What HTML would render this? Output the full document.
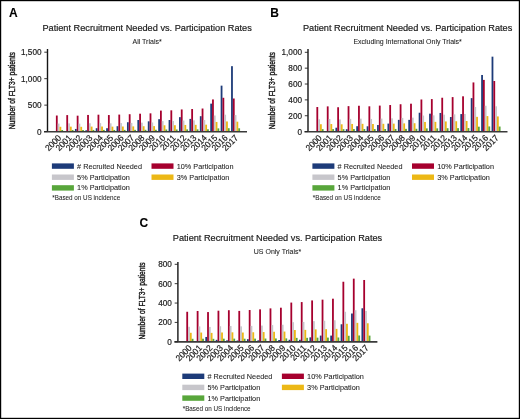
<!DOCTYPE html>
<html><head><meta charset="utf-8"><style>
html,body{margin:0;padding:0;background:#fff;}
body{width:520px;height:419px;overflow:hidden;}
svg{display:block;will-change:transform;}
text{stroke:#1a1a1a;stroke-width:0.18px;paint-order:stroke;}
</style></head><body>
<svg width="520" height="419" viewBox="0 0 520 419" font-family='"Liberation Sans", sans-serif'>
<rect x="0" y="0" width="520" height="419" fill="#fff"/>
<g transform="translate(0,0)">
<text x="9.1" y="16.9" font-weight="bold" font-size="12.0" style="stroke-width:0.1px">A</text>
<text transform="translate(147.1,31.1) scale(1,1.06)" text-anchor="middle" font-size="9.2" fill="#1a1a1a">Patient Recruitment Needed vs. Participation Rates</text>
<text transform="translate(147.1,44.1) scale(1,1.06)" text-anchor="middle" font-size="7.0" fill="#1a1a1a" style="stroke-width:0.06px">All Trials*</text>
<text transform="translate(14.6,90.7) rotate(-90) scale(0.795,1)" text-anchor="middle" font-size="8.4" fill="#1a1a1a" style="stroke-width:0.4px">Number of FLT3+ patients</text>
<rect x="55.9" y="115.52" width="1.8" height="16.08" fill="#a6002e"/>
<rect x="57.7" y="123.56" width="1.8" height="8.04" fill="#c7c6cb"/>
<rect x="59.5" y="126.78" width="1.8" height="4.82" fill="#ecb816"/>
<rect x="61.3" y="129.99" width="1.8" height="1.61" fill="#58a63b"/>
<rect x="66.31" y="115.1" width="1.8" height="16.5" fill="#a6002e"/>
<rect x="68.11" y="123.35" width="1.8" height="8.25" fill="#c7c6cb"/>
<rect x="69.91" y="126.65" width="1.8" height="4.95" fill="#ecb816"/>
<rect x="71.71" y="129.95" width="1.8" height="1.65" fill="#58a63b"/>
<rect x="74.92" y="128.95" width="1.8" height="2.65" fill="#1d3b79"/>
<rect x="76.72" y="115.67" width="1.8" height="15.93" fill="#a6002e"/>
<rect x="78.52" y="123.64" width="1.8" height="7.96" fill="#c7c6cb"/>
<rect x="80.32" y="126.82" width="1.8" height="4.78" fill="#ecb816"/>
<rect x="82.12" y="130.01" width="1.8" height="1.59" fill="#58a63b"/>
<rect x="85.33" y="130.28" width="1.8" height="1.32" fill="#1d3b79"/>
<rect x="87.13" y="114.95" width="1.8" height="16.65" fill="#a6002e"/>
<rect x="88.93" y="123.27" width="1.8" height="8.33" fill="#c7c6cb"/>
<rect x="90.73" y="126.6" width="1.8" height="5" fill="#ecb816"/>
<rect x="92.53" y="129.93" width="1.8" height="1.67" fill="#58a63b"/>
<rect x="95.74" y="128.21" width="1.8" height="3.39" fill="#1d3b79"/>
<rect x="97.54" y="114.69" width="1.8" height="16.91" fill="#a6002e"/>
<rect x="99.34" y="123.14" width="1.8" height="8.46" fill="#c7c6cb"/>
<rect x="101.14" y="126.53" width="1.8" height="5.07" fill="#ecb816"/>
<rect x="102.94" y="129.91" width="1.8" height="1.69" fill="#58a63b"/>
<rect x="106.15" y="128.21" width="1.8" height="3.39" fill="#1d3b79"/>
<rect x="107.95" y="115.05" width="1.8" height="16.55" fill="#a6002e"/>
<rect x="109.75" y="123.33" width="1.8" height="8.27" fill="#c7c6cb"/>
<rect x="111.55" y="126.64" width="1.8" height="4.96" fill="#ecb816"/>
<rect x="113.35" y="129.95" width="1.8" height="1.65" fill="#58a63b"/>
<rect x="116.56" y="126.2" width="1.8" height="5.4" fill="#1d3b79"/>
<rect x="118.36" y="114.59" width="1.8" height="17.01" fill="#a6002e"/>
<rect x="120.16" y="123.09" width="1.8" height="8.51" fill="#c7c6cb"/>
<rect x="121.96" y="126.5" width="1.8" height="5.1" fill="#ecb816"/>
<rect x="123.76" y="129.9" width="1.8" height="1.7" fill="#58a63b"/>
<rect x="126.97" y="122.23" width="1.8" height="9.37" fill="#1d3b79"/>
<rect x="128.77" y="114.22" width="1.8" height="17.38" fill="#a6002e"/>
<rect x="130.57" y="122.91" width="1.8" height="8.69" fill="#c7c6cb"/>
<rect x="132.37" y="126.39" width="1.8" height="5.21" fill="#ecb816"/>
<rect x="134.17" y="129.86" width="1.8" height="1.74" fill="#58a63b"/>
<rect x="137.38" y="120.01" width="1.8" height="11.59" fill="#1d3b79"/>
<rect x="139.18" y="113.7" width="1.8" height="17.9" fill="#a6002e"/>
<rect x="140.98" y="122.65" width="1.8" height="8.95" fill="#c7c6cb"/>
<rect x="142.78" y="126.23" width="1.8" height="5.37" fill="#ecb816"/>
<rect x="144.58" y="129.81" width="1.8" height="1.79" fill="#58a63b"/>
<rect x="147.79" y="121.33" width="1.8" height="10.27" fill="#1d3b79"/>
<rect x="149.59" y="113.34" width="1.8" height="18.26" fill="#a6002e"/>
<rect x="151.39" y="122.47" width="1.8" height="9.13" fill="#c7c6cb"/>
<rect x="153.19" y="126.12" width="1.8" height="5.48" fill="#ecb816"/>
<rect x="154.99" y="129.77" width="1.8" height="1.83" fill="#58a63b"/>
<rect x="158.2" y="119.21" width="1.8" height="12.39" fill="#1d3b79"/>
<rect x="160" y="110.59" width="1.8" height="21.01" fill="#a6002e"/>
<rect x="161.8" y="121.1" width="1.8" height="10.5" fill="#c7c6cb"/>
<rect x="163.6" y="125.3" width="1.8" height="6.3" fill="#ecb816"/>
<rect x="165.4" y="129.5" width="1.8" height="2.1" fill="#58a63b"/>
<rect x="168.61" y="120.01" width="1.8" height="11.59" fill="#1d3b79"/>
<rect x="170.41" y="110.33" width="1.8" height="21.27" fill="#a6002e"/>
<rect x="172.21" y="120.97" width="1.8" height="10.63" fill="#c7c6cb"/>
<rect x="174.01" y="125.22" width="1.8" height="6.38" fill="#ecb816"/>
<rect x="175.81" y="129.47" width="1.8" height="2.13" fill="#58a63b"/>
<rect x="179.02" y="117.15" width="1.8" height="14.45" fill="#1d3b79"/>
<rect x="180.82" y="109.45" width="1.8" height="22.15" fill="#a6002e"/>
<rect x="182.62" y="120.52" width="1.8" height="11.08" fill="#c7c6cb"/>
<rect x="184.42" y="124.95" width="1.8" height="6.65" fill="#ecb816"/>
<rect x="186.22" y="129.38" width="1.8" height="2.22" fill="#58a63b"/>
<rect x="189.43" y="118.9" width="1.8" height="12.7" fill="#1d3b79"/>
<rect x="191.23" y="109.03" width="1.8" height="22.57" fill="#a6002e"/>
<rect x="193.03" y="120.32" width="1.8" height="11.28" fill="#c7c6cb"/>
<rect x="194.83" y="124.83" width="1.8" height="6.77" fill="#ecb816"/>
<rect x="196.63" y="129.34" width="1.8" height="2.26" fill="#58a63b"/>
<rect x="199.84" y="116.2" width="1.8" height="15.4" fill="#1d3b79"/>
<rect x="201.64" y="108.52" width="1.8" height="23.08" fill="#a6002e"/>
<rect x="203.44" y="120.06" width="1.8" height="11.54" fill="#c7c6cb"/>
<rect x="205.24" y="124.67" width="1.8" height="6.93" fill="#ecb816"/>
<rect x="207.04" y="129.29" width="1.8" height="2.31" fill="#58a63b"/>
<rect x="210.25" y="103.65" width="1.8" height="27.95" fill="#1d3b79"/>
<rect x="212.05" y="99.44" width="1.8" height="32.16" fill="#a6002e"/>
<rect x="213.85" y="115.52" width="1.8" height="16.08" fill="#c7c6cb"/>
<rect x="215.65" y="121.95" width="1.8" height="9.65" fill="#ecb816"/>
<rect x="217.45" y="128.38" width="1.8" height="3.22" fill="#58a63b"/>
<rect x="220.66" y="85.65" width="1.8" height="45.95" fill="#1d3b79"/>
<rect x="222.46" y="97.78" width="1.8" height="33.82" fill="#a6002e"/>
<rect x="224.26" y="114.69" width="1.8" height="16.91" fill="#c7c6cb"/>
<rect x="226.06" y="121.45" width="1.8" height="10.15" fill="#ecb816"/>
<rect x="227.86" y="128.22" width="1.8" height="3.38" fill="#58a63b"/>
<rect x="231.07" y="66.17" width="1.8" height="65.43" fill="#1d3b79"/>
<rect x="232.87" y="98.5" width="1.8" height="33.1" fill="#a6002e"/>
<rect x="234.67" y="115.05" width="1.8" height="16.55" fill="#c7c6cb"/>
<rect x="236.47" y="121.67" width="1.8" height="9.93" fill="#ecb816"/>
<rect x="238.27" y="128.29" width="1.8" height="3.31" fill="#58a63b"/>
<line x1="47.5" y1="49" x2="47.5" y2="131.6" stroke="#151515" stroke-width="1.4"/>
<line x1="44" y1="131.75" x2="247" y2="131.75" stroke="#3a3a3a" stroke-width="1.7"/>
<line x1="44.3" y1="131.6" x2="47.5" y2="131.6" stroke="#222" stroke-width="0.9"/>
<text transform="translate(41.5,134.5) scale(1,1.06)" text-anchor="end" font-size="8.2" fill="#1a1a1a">0</text>
<line x1="44.3" y1="105.13" x2="47.5" y2="105.13" stroke="#222" stroke-width="0.9"/>
<text transform="translate(41.5,108.03) scale(1,1.06)" text-anchor="end" font-size="8.2" fill="#1a1a1a">500</text>
<line x1="44.3" y1="78.67" x2="47.5" y2="78.67" stroke="#222" stroke-width="0.9"/>
<text transform="translate(41.5,81.57) scale(1,1.06)" text-anchor="end" font-size="8.2" fill="#1a1a1a">1,000</text>
<line x1="44.3" y1="52.2" x2="47.5" y2="52.2" stroke="#222" stroke-width="0.9"/>
<text transform="translate(41.5,55.1) scale(1,1.06)" text-anchor="end" font-size="8.2" fill="#1a1a1a">1,500</text>
<text transform="translate(61.8,138.4) rotate(-45) scale(1,1.06)" text-anchor="end" font-size="8.3" fill="#1a1a1a">2000</text>
<text transform="translate(72.21,138.4) rotate(-45) scale(1,1.06)" text-anchor="end" font-size="8.3" fill="#1a1a1a">2001</text>
<text transform="translate(82.62,138.4) rotate(-45) scale(1,1.06)" text-anchor="end" font-size="8.3" fill="#1a1a1a">2002</text>
<text transform="translate(93.03,138.4) rotate(-45) scale(1,1.06)" text-anchor="end" font-size="8.3" fill="#1a1a1a">2003</text>
<text transform="translate(103.44,138.4) rotate(-45) scale(1,1.06)" text-anchor="end" font-size="8.3" fill="#1a1a1a">2004</text>
<text transform="translate(113.85,138.4) rotate(-45) scale(1,1.06)" text-anchor="end" font-size="8.3" fill="#1a1a1a">2005</text>
<text transform="translate(124.26,138.4) rotate(-45) scale(1,1.06)" text-anchor="end" font-size="8.3" fill="#1a1a1a">2006</text>
<text transform="translate(134.67,138.4) rotate(-45) scale(1,1.06)" text-anchor="end" font-size="8.3" fill="#1a1a1a">2007</text>
<text transform="translate(145.08,138.4) rotate(-45) scale(1,1.06)" text-anchor="end" font-size="8.3" fill="#1a1a1a">2008</text>
<text transform="translate(155.49,138.4) rotate(-45) scale(1,1.06)" text-anchor="end" font-size="8.3" fill="#1a1a1a">2009</text>
<text transform="translate(165.9,138.4) rotate(-45) scale(1,1.06)" text-anchor="end" font-size="8.3" fill="#1a1a1a">2010</text>
<text transform="translate(176.31,138.4) rotate(-45) scale(1,1.06)" text-anchor="end" font-size="8.3" fill="#1a1a1a">2011</text>
<text transform="translate(186.72,138.4) rotate(-45) scale(1,1.06)" text-anchor="end" font-size="8.3" fill="#1a1a1a">2012</text>
<text transform="translate(197.13,138.4) rotate(-45) scale(1,1.06)" text-anchor="end" font-size="8.3" fill="#1a1a1a">2013</text>
<text transform="translate(207.54,138.4) rotate(-45) scale(1,1.06)" text-anchor="end" font-size="8.3" fill="#1a1a1a">2014</text>
<text transform="translate(217.95,138.4) rotate(-45) scale(1,1.06)" text-anchor="end" font-size="8.3" fill="#1a1a1a">2015</text>
<text transform="translate(228.36,138.4) rotate(-45) scale(1,1.06)" text-anchor="end" font-size="8.3" fill="#1a1a1a">2016</text>
<text transform="translate(238.77,138.4) rotate(-45) scale(1,1.06)" text-anchor="end" font-size="8.3" fill="#1a1a1a">2017</text>
<rect x="51.9" y="163.4" width="22" height="5.4" fill="#1d3b79"/>
<text transform="translate(77.1,168.6) scale(1,1.06)" font-size="7.3" fill="#1a1a1a" style="stroke-width:0.06px"># Recruited Needed</text>
<rect x="151.5" y="163.4" width="22" height="5.4" fill="#a6002e"/>
<text transform="translate(176.7,168.6) scale(1,1.06)" font-size="7.3" fill="#1a1a1a" style="stroke-width:0.06px">10% Participation</text>
<rect x="51.9" y="174.5" width="22" height="5.4" fill="#c7c6cb"/>
<text transform="translate(77.1,179.7) scale(1,1.06)" font-size="7.3" fill="#1a1a1a" style="stroke-width:0.06px">5% Participation</text>
<rect x="151.5" y="174.5" width="22" height="5.4" fill="#ecb816"/>
<text transform="translate(176.7,179.7) scale(1,1.06)" font-size="7.3" fill="#1a1a1a" style="stroke-width:0.06px">3% Participation</text>
<rect x="51.9" y="185.2" width="22" height="5.4" fill="#58a63b"/>
<text transform="translate(77.1,190.4) scale(1,1.06)" font-size="7.3" fill="#1a1a1a" style="stroke-width:0.06px">1% Participation</text>
<text transform="translate(52.3,200.4) scale(1,1.06)" font-size="6.3" fill="#1a1a1a" style="stroke-width:0.04px">*Based on US incidence</text>
</g>
<g transform="translate(260.5,0)">
<text x="9.7" y="16.9" font-weight="bold" font-size="12.0" style="stroke-width:0.1px">B</text>
<text transform="translate(147.1,31.1) scale(1,1.06)" text-anchor="middle" font-size="9.2" fill="#1a1a1a">Patient Recruitment Needed vs. Participation Rates</text>
<text transform="translate(147.1,44.1) scale(1,1.06)" text-anchor="middle" font-size="7.0" fill="#1a1a1a" style="stroke-width:0.06px">Excluding International Only Trials*</text>
<text transform="translate(14.6,90.7) rotate(-90) scale(0.795,1)" text-anchor="middle" font-size="8.4" fill="#1a1a1a" style="stroke-width:0.4px">Number of FLT3+ patients</text>
<rect x="55.9" y="107.02" width="1.8" height="24.58" fill="#a6002e"/>
<rect x="57.7" y="119.31" width="1.8" height="12.29" fill="#c7c6cb"/>
<rect x="59.5" y="124.23" width="1.8" height="7.37" fill="#ecb816"/>
<rect x="61.3" y="129.14" width="1.8" height="2.46" fill="#58a63b"/>
<rect x="66.31" y="106.38" width="1.8" height="25.22" fill="#a6002e"/>
<rect x="68.11" y="118.99" width="1.8" height="12.61" fill="#c7c6cb"/>
<rect x="69.91" y="124.03" width="1.8" height="7.57" fill="#ecb816"/>
<rect x="71.71" y="129.08" width="1.8" height="2.52" fill="#58a63b"/>
<rect x="74.92" y="127.71" width="1.8" height="3.89" fill="#1d3b79"/>
<rect x="76.72" y="107.25" width="1.8" height="24.35" fill="#a6002e"/>
<rect x="78.52" y="119.43" width="1.8" height="12.17" fill="#c7c6cb"/>
<rect x="80.32" y="124.3" width="1.8" height="7.3" fill="#ecb816"/>
<rect x="82.12" y="129.17" width="1.8" height="2.43" fill="#58a63b"/>
<rect x="85.33" y="129.22" width="1.8" height="2.38" fill="#1d3b79"/>
<rect x="87.13" y="106.14" width="1.8" height="25.46" fill="#a6002e"/>
<rect x="88.93" y="118.87" width="1.8" height="12.73" fill="#c7c6cb"/>
<rect x="90.73" y="123.96" width="1.8" height="7.64" fill="#ecb816"/>
<rect x="92.53" y="129.05" width="1.8" height="2.55" fill="#58a63b"/>
<rect x="95.74" y="126.21" width="1.8" height="5.39" fill="#1d3b79"/>
<rect x="97.54" y="105.75" width="1.8" height="25.85" fill="#a6002e"/>
<rect x="99.34" y="118.67" width="1.8" height="12.93" fill="#c7c6cb"/>
<rect x="101.14" y="123.84" width="1.8" height="7.76" fill="#ecb816"/>
<rect x="102.94" y="129.01" width="1.8" height="2.59" fill="#58a63b"/>
<rect x="106.15" y="126.29" width="1.8" height="5.31" fill="#1d3b79"/>
<rect x="107.95" y="106.3" width="1.8" height="25.3" fill="#a6002e"/>
<rect x="109.75" y="118.95" width="1.8" height="12.65" fill="#c7c6cb"/>
<rect x="111.55" y="124.01" width="1.8" height="7.59" fill="#ecb816"/>
<rect x="113.35" y="129.07" width="1.8" height="2.53" fill="#58a63b"/>
<rect x="116.56" y="125.02" width="1.8" height="6.58" fill="#1d3b79"/>
<rect x="118.36" y="105.59" width="1.8" height="26.01" fill="#a6002e"/>
<rect x="120.16" y="118.59" width="1.8" height="13.01" fill="#c7c6cb"/>
<rect x="121.96" y="123.8" width="1.8" height="7.8" fill="#ecb816"/>
<rect x="123.76" y="129" width="1.8" height="2.6" fill="#58a63b"/>
<rect x="126.97" y="123.59" width="1.8" height="8.01" fill="#1d3b79"/>
<rect x="128.77" y="105.03" width="1.8" height="26.57" fill="#a6002e"/>
<rect x="130.57" y="118.32" width="1.8" height="13.28" fill="#c7c6cb"/>
<rect x="132.37" y="123.63" width="1.8" height="7.97" fill="#ecb816"/>
<rect x="134.17" y="128.94" width="1.8" height="2.66" fill="#58a63b"/>
<rect x="137.38" y="119.86" width="1.8" height="11.74" fill="#1d3b79"/>
<rect x="139.18" y="104.24" width="1.8" height="27.36" fill="#a6002e"/>
<rect x="140.98" y="117.92" width="1.8" height="13.68" fill="#c7c6cb"/>
<rect x="142.78" y="123.39" width="1.8" height="8.21" fill="#ecb816"/>
<rect x="144.58" y="128.86" width="1.8" height="2.74" fill="#58a63b"/>
<rect x="147.79" y="119.86" width="1.8" height="11.74" fill="#1d3b79"/>
<rect x="149.59" y="103.69" width="1.8" height="27.91" fill="#a6002e"/>
<rect x="151.39" y="117.64" width="1.8" height="13.96" fill="#c7c6cb"/>
<rect x="153.19" y="123.23" width="1.8" height="8.37" fill="#ecb816"/>
<rect x="154.99" y="128.81" width="1.8" height="2.79" fill="#58a63b"/>
<rect x="158.2" y="112.73" width="1.8" height="18.87" fill="#1d3b79"/>
<rect x="160" y="99.48" width="1.8" height="32.12" fill="#a6002e"/>
<rect x="161.8" y="115.54" width="1.8" height="16.06" fill="#c7c6cb"/>
<rect x="163.6" y="121.97" width="1.8" height="9.63" fill="#ecb816"/>
<rect x="165.4" y="128.39" width="1.8" height="3.21" fill="#58a63b"/>
<rect x="168.61" y="113.68" width="1.8" height="17.92" fill="#1d3b79"/>
<rect x="170.41" y="99.09" width="1.8" height="32.51" fill="#a6002e"/>
<rect x="172.21" y="115.34" width="1.8" height="16.26" fill="#c7c6cb"/>
<rect x="174.01" y="121.85" width="1.8" height="9.75" fill="#ecb816"/>
<rect x="175.81" y="128.35" width="1.8" height="3.25" fill="#58a63b"/>
<rect x="179.02" y="112.96" width="1.8" height="18.64" fill="#1d3b79"/>
<rect x="180.82" y="97.74" width="1.8" height="33.86" fill="#a6002e"/>
<rect x="182.62" y="114.67" width="1.8" height="16.93" fill="#c7c6cb"/>
<rect x="184.42" y="121.44" width="1.8" height="10.16" fill="#ecb816"/>
<rect x="186.22" y="128.21" width="1.8" height="3.39" fill="#58a63b"/>
<rect x="189.43" y="117.01" width="1.8" height="14.59" fill="#1d3b79"/>
<rect x="191.23" y="97.1" width="1.8" height="34.5" fill="#a6002e"/>
<rect x="193.03" y="114.35" width="1.8" height="17.25" fill="#c7c6cb"/>
<rect x="194.83" y="121.25" width="1.8" height="10.35" fill="#ecb816"/>
<rect x="196.63" y="128.15" width="1.8" height="3.45" fill="#58a63b"/>
<rect x="199.84" y="114.07" width="1.8" height="17.53" fill="#1d3b79"/>
<rect x="201.64" y="96.31" width="1.8" height="35.29" fill="#a6002e"/>
<rect x="203.44" y="113.96" width="1.8" height="17.64" fill="#c7c6cb"/>
<rect x="205.24" y="121.01" width="1.8" height="10.59" fill="#ecb816"/>
<rect x="207.04" y="128.07" width="1.8" height="3.53" fill="#58a63b"/>
<rect x="210.25" y="98.14" width="1.8" height="33.46" fill="#1d3b79"/>
<rect x="212.05" y="82.43" width="1.8" height="49.17" fill="#a6002e"/>
<rect x="213.85" y="107.02" width="1.8" height="24.58" fill="#c7c6cb"/>
<rect x="215.65" y="116.85" width="1.8" height="14.75" fill="#ecb816"/>
<rect x="217.45" y="126.68" width="1.8" height="4.92" fill="#58a63b"/>
<rect x="220.66" y="74.98" width="1.8" height="56.62" fill="#1d3b79"/>
<rect x="222.46" y="79.9" width="1.8" height="51.7" fill="#a6002e"/>
<rect x="224.26" y="105.75" width="1.8" height="25.85" fill="#c7c6cb"/>
<rect x="226.06" y="116.09" width="1.8" height="15.51" fill="#ecb816"/>
<rect x="227.86" y="126.43" width="1.8" height="5.17" fill="#58a63b"/>
<rect x="231.07" y="56.66" width="1.8" height="74.94" fill="#1d3b79"/>
<rect x="232.87" y="81.01" width="1.8" height="50.59" fill="#a6002e"/>
<rect x="234.67" y="106.3" width="1.8" height="25.3" fill="#c7c6cb"/>
<rect x="236.47" y="116.42" width="1.8" height="15.18" fill="#ecb816"/>
<rect x="238.27" y="126.54" width="1.8" height="5.06" fill="#58a63b"/>
<line x1="47.5" y1="49.1" x2="47.5" y2="131.6" stroke="#151515" stroke-width="1.4"/>
<line x1="44" y1="131.75" x2="247" y2="131.75" stroke="#3a3a3a" stroke-width="1.7"/>
<line x1="44.3" y1="131.6" x2="47.5" y2="131.6" stroke="#222" stroke-width="0.9"/>
<text transform="translate(41.5,134.5) scale(1,1.06)" text-anchor="end" font-size="8.2" fill="#1a1a1a">0</text>
<line x1="44.3" y1="115.74" x2="47.5" y2="115.74" stroke="#222" stroke-width="0.9"/>
<text transform="translate(41.5,118.64) scale(1,1.06)" text-anchor="end" font-size="8.2" fill="#1a1a1a">200</text>
<line x1="44.3" y1="99.88" x2="47.5" y2="99.88" stroke="#222" stroke-width="0.9"/>
<text transform="translate(41.5,102.78) scale(1,1.06)" text-anchor="end" font-size="8.2" fill="#1a1a1a">400</text>
<line x1="44.3" y1="84.02" x2="47.5" y2="84.02" stroke="#222" stroke-width="0.9"/>
<text transform="translate(41.5,86.92) scale(1,1.06)" text-anchor="end" font-size="8.2" fill="#1a1a1a">600</text>
<line x1="44.3" y1="68.16" x2="47.5" y2="68.16" stroke="#222" stroke-width="0.9"/>
<text transform="translate(41.5,71.06) scale(1,1.06)" text-anchor="end" font-size="8.2" fill="#1a1a1a">800</text>
<line x1="44.3" y1="52.3" x2="47.5" y2="52.3" stroke="#222" stroke-width="0.9"/>
<text transform="translate(41.5,55.2) scale(1,1.06)" text-anchor="end" font-size="8.2" fill="#1a1a1a">1,000</text>
<text transform="translate(61.8,138.4) rotate(-45) scale(1,1.06)" text-anchor="end" font-size="8.3" fill="#1a1a1a">2000</text>
<text transform="translate(72.21,138.4) rotate(-45) scale(1,1.06)" text-anchor="end" font-size="8.3" fill="#1a1a1a">2001</text>
<text transform="translate(82.62,138.4) rotate(-45) scale(1,1.06)" text-anchor="end" font-size="8.3" fill="#1a1a1a">2002</text>
<text transform="translate(93.03,138.4) rotate(-45) scale(1,1.06)" text-anchor="end" font-size="8.3" fill="#1a1a1a">2003</text>
<text transform="translate(103.44,138.4) rotate(-45) scale(1,1.06)" text-anchor="end" font-size="8.3" fill="#1a1a1a">2004</text>
<text transform="translate(113.85,138.4) rotate(-45) scale(1,1.06)" text-anchor="end" font-size="8.3" fill="#1a1a1a">2005</text>
<text transform="translate(124.26,138.4) rotate(-45) scale(1,1.06)" text-anchor="end" font-size="8.3" fill="#1a1a1a">2006</text>
<text transform="translate(134.67,138.4) rotate(-45) scale(1,1.06)" text-anchor="end" font-size="8.3" fill="#1a1a1a">2007</text>
<text transform="translate(145.08,138.4) rotate(-45) scale(1,1.06)" text-anchor="end" font-size="8.3" fill="#1a1a1a">2008</text>
<text transform="translate(155.49,138.4) rotate(-45) scale(1,1.06)" text-anchor="end" font-size="8.3" fill="#1a1a1a">2009</text>
<text transform="translate(165.9,138.4) rotate(-45) scale(1,1.06)" text-anchor="end" font-size="8.3" fill="#1a1a1a">2010</text>
<text transform="translate(176.31,138.4) rotate(-45) scale(1,1.06)" text-anchor="end" font-size="8.3" fill="#1a1a1a">2011</text>
<text transform="translate(186.72,138.4) rotate(-45) scale(1,1.06)" text-anchor="end" font-size="8.3" fill="#1a1a1a">2012</text>
<text transform="translate(197.13,138.4) rotate(-45) scale(1,1.06)" text-anchor="end" font-size="8.3" fill="#1a1a1a">2013</text>
<text transform="translate(207.54,138.4) rotate(-45) scale(1,1.06)" text-anchor="end" font-size="8.3" fill="#1a1a1a">2014</text>
<text transform="translate(217.95,138.4) rotate(-45) scale(1,1.06)" text-anchor="end" font-size="8.3" fill="#1a1a1a">2015</text>
<text transform="translate(228.36,138.4) rotate(-45) scale(1,1.06)" text-anchor="end" font-size="8.3" fill="#1a1a1a">2016</text>
<text transform="translate(238.77,138.4) rotate(-45) scale(1,1.06)" text-anchor="end" font-size="8.3" fill="#1a1a1a">2017</text>
<rect x="51.9" y="163.4" width="22" height="5.4" fill="#1d3b79"/>
<text transform="translate(77.1,168.6) scale(1,1.06)" font-size="7.3" fill="#1a1a1a" style="stroke-width:0.06px"># Recruited Needed</text>
<rect x="151.5" y="163.4" width="22" height="5.4" fill="#a6002e"/>
<text transform="translate(176.7,168.6) scale(1,1.06)" font-size="7.3" fill="#1a1a1a" style="stroke-width:0.06px">10% Participation</text>
<rect x="51.9" y="174.5" width="22" height="5.4" fill="#c7c6cb"/>
<text transform="translate(77.1,179.7) scale(1,1.06)" font-size="7.3" fill="#1a1a1a" style="stroke-width:0.06px">5% Participation</text>
<rect x="151.5" y="174.5" width="22" height="5.4" fill="#ecb816"/>
<text transform="translate(176.7,179.7) scale(1,1.06)" font-size="7.3" fill="#1a1a1a" style="stroke-width:0.06px">3% Participation</text>
<rect x="51.9" y="185.2" width="22" height="5.4" fill="#58a63b"/>
<text transform="translate(77.1,190.4) scale(1,1.06)" font-size="7.3" fill="#1a1a1a" style="stroke-width:0.06px">1% Participation</text>
<text transform="translate(52.3,200.4) scale(1,1.06)" font-size="6.3" fill="#1a1a1a" style="stroke-width:0.04px">*Based on US incidence</text>
</g>
<g transform="translate(130.4,210.2)">
<text x="9.0" y="16.9" font-weight="bold" font-size="12.0" style="stroke-width:0.1px">C</text>
<text transform="translate(147.1,31.1) scale(1,1.06)" text-anchor="middle" font-size="9.2" fill="#1a1a1a">Patient Recruitment Needed vs. Participation Rates</text>
<text transform="translate(147.1,44.1) scale(1,1.06)" text-anchor="middle" font-size="7.0" fill="#1a1a1a" style="stroke-width:0.06px">US Only Trials*</text>
<text transform="translate(14.6,90.7) rotate(-90) scale(0.795,1)" text-anchor="middle" font-size="8.4" fill="#1a1a1a" style="stroke-width:0.4px">Number of FLT3+ patients</text>
<rect x="55.9" y="101.57" width="1.8" height="30.03" fill="#a6002e"/>
<rect x="57.7" y="116.58" width="1.8" height="15.02" fill="#c7c6cb"/>
<rect x="59.5" y="122.59" width="1.8" height="9.01" fill="#ecb816"/>
<rect x="61.3" y="128.6" width="1.8" height="3" fill="#58a63b"/>
<rect x="66.31" y="100.79" width="1.8" height="30.81" fill="#a6002e"/>
<rect x="68.11" y="116.2" width="1.8" height="15.4" fill="#c7c6cb"/>
<rect x="69.91" y="122.36" width="1.8" height="9.24" fill="#ecb816"/>
<rect x="71.71" y="128.52" width="1.8" height="3.08" fill="#58a63b"/>
<rect x="74.92" y="126.76" width="1.8" height="4.84" fill="#1d3b79"/>
<rect x="76.72" y="101.86" width="1.8" height="29.74" fill="#a6002e"/>
<rect x="78.52" y="116.73" width="1.8" height="14.87" fill="#c7c6cb"/>
<rect x="80.32" y="122.68" width="1.8" height="8.92" fill="#ecb816"/>
<rect x="82.12" y="128.63" width="1.8" height="2.97" fill="#58a63b"/>
<rect x="85.33" y="129.66" width="1.8" height="1.94" fill="#1d3b79"/>
<rect x="87.13" y="100.5" width="1.8" height="31.1" fill="#a6002e"/>
<rect x="88.93" y="116.05" width="1.8" height="15.55" fill="#c7c6cb"/>
<rect x="90.73" y="122.27" width="1.8" height="9.33" fill="#ecb816"/>
<rect x="92.53" y="128.49" width="1.8" height="3.11" fill="#58a63b"/>
<rect x="95.74" y="130.15" width="1.8" height="1.45" fill="#1d3b79"/>
<rect x="97.54" y="100.02" width="1.8" height="31.58" fill="#a6002e"/>
<rect x="99.34" y="115.81" width="1.8" height="15.79" fill="#c7c6cb"/>
<rect x="101.14" y="122.13" width="1.8" height="9.47" fill="#ecb816"/>
<rect x="102.94" y="128.44" width="1.8" height="3.16" fill="#58a63b"/>
<rect x="106.15" y="130.34" width="1.8" height="1.26" fill="#1d3b79"/>
<rect x="107.95" y="100.7" width="1.8" height="30.9" fill="#a6002e"/>
<rect x="109.75" y="116.15" width="1.8" height="15.45" fill="#c7c6cb"/>
<rect x="111.55" y="122.33" width="1.8" height="9.27" fill="#ecb816"/>
<rect x="113.35" y="128.51" width="1.8" height="3.09" fill="#58a63b"/>
<rect x="116.56" y="128.98" width="1.8" height="2.62" fill="#1d3b79"/>
<rect x="118.36" y="99.82" width="1.8" height="31.78" fill="#a6002e"/>
<rect x="120.16" y="115.71" width="1.8" height="15.89" fill="#c7c6cb"/>
<rect x="121.96" y="122.07" width="1.8" height="9.53" fill="#ecb816"/>
<rect x="123.76" y="128.42" width="1.8" height="3.18" fill="#58a63b"/>
<rect x="126.97" y="130.15" width="1.8" height="1.45" fill="#1d3b79"/>
<rect x="128.77" y="99.15" width="1.8" height="32.45" fill="#a6002e"/>
<rect x="130.57" y="115.37" width="1.8" height="16.23" fill="#c7c6cb"/>
<rect x="132.37" y="121.86" width="1.8" height="9.74" fill="#ecb816"/>
<rect x="134.17" y="128.35" width="1.8" height="3.25" fill="#58a63b"/>
<rect x="137.38" y="131.31" width="1.8" height="0.29" fill="#1d3b79"/>
<rect x="139.18" y="98.18" width="1.8" height="33.42" fill="#a6002e"/>
<rect x="140.98" y="114.89" width="1.8" height="16.71" fill="#c7c6cb"/>
<rect x="142.78" y="121.57" width="1.8" height="10.03" fill="#ecb816"/>
<rect x="144.58" y="128.26" width="1.8" height="3.34" fill="#58a63b"/>
<rect x="147.79" y="129.86" width="1.8" height="1.74" fill="#1d3b79"/>
<rect x="149.59" y="97.5" width="1.8" height="34.1" fill="#a6002e"/>
<rect x="151.39" y="114.55" width="1.8" height="17.05" fill="#c7c6cb"/>
<rect x="153.19" y="121.37" width="1.8" height="10.23" fill="#ecb816"/>
<rect x="154.99" y="128.19" width="1.8" height="3.41" fill="#58a63b"/>
<rect x="158.2" y="129.57" width="1.8" height="2.03" fill="#1d3b79"/>
<rect x="160" y="92.37" width="1.8" height="39.23" fill="#a6002e"/>
<rect x="161.8" y="111.98" width="1.8" height="19.62" fill="#c7c6cb"/>
<rect x="163.6" y="119.83" width="1.8" height="11.77" fill="#ecb816"/>
<rect x="165.4" y="127.68" width="1.8" height="3.92" fill="#58a63b"/>
<rect x="168.61" y="129.57" width="1.8" height="2.03" fill="#1d3b79"/>
<rect x="170.41" y="91.88" width="1.8" height="39.72" fill="#a6002e"/>
<rect x="172.21" y="111.74" width="1.8" height="19.86" fill="#c7c6cb"/>
<rect x="174.01" y="119.68" width="1.8" height="11.92" fill="#ecb816"/>
<rect x="175.81" y="127.63" width="1.8" height="3.97" fill="#58a63b"/>
<rect x="179.02" y="127.14" width="1.8" height="4.46" fill="#1d3b79"/>
<rect x="180.82" y="90.23" width="1.8" height="41.37" fill="#a6002e"/>
<rect x="182.62" y="110.92" width="1.8" height="20.68" fill="#c7c6cb"/>
<rect x="184.42" y="119.19" width="1.8" height="12.41" fill="#ecb816"/>
<rect x="186.22" y="127.46" width="1.8" height="4.14" fill="#58a63b"/>
<rect x="189.43" y="125.4" width="1.8" height="6.2" fill="#1d3b79"/>
<rect x="191.23" y="89.46" width="1.8" height="42.14" fill="#a6002e"/>
<rect x="193.03" y="110.53" width="1.8" height="21.07" fill="#c7c6cb"/>
<rect x="194.83" y="118.96" width="1.8" height="12.64" fill="#ecb816"/>
<rect x="196.63" y="127.39" width="1.8" height="4.21" fill="#58a63b"/>
<rect x="199.84" y="125.4" width="1.8" height="6.2" fill="#1d3b79"/>
<rect x="201.64" y="88.49" width="1.8" height="43.11" fill="#a6002e"/>
<rect x="203.44" y="110.05" width="1.8" height="21.55" fill="#c7c6cb"/>
<rect x="205.24" y="118.67" width="1.8" height="12.93" fill="#ecb816"/>
<rect x="207.04" y="127.29" width="1.8" height="4.31" fill="#58a63b"/>
<rect x="210.25" y="114.07" width="1.8" height="17.53" fill="#1d3b79"/>
<rect x="212.05" y="71.54" width="1.8" height="60.06" fill="#a6002e"/>
<rect x="213.85" y="101.57" width="1.8" height="30.03" fill="#c7c6cb"/>
<rect x="215.65" y="113.58" width="1.8" height="18.02" fill="#ecb816"/>
<rect x="217.45" y="125.59" width="1.8" height="6.01" fill="#58a63b"/>
<rect x="220.66" y="103.31" width="1.8" height="28.29" fill="#1d3b79"/>
<rect x="222.46" y="68.44" width="1.8" height="63.16" fill="#a6002e"/>
<rect x="224.26" y="100.02" width="1.8" height="31.58" fill="#c7c6cb"/>
<rect x="226.06" y="112.65" width="1.8" height="18.95" fill="#ecb816"/>
<rect x="227.86" y="125.28" width="1.8" height="6.32" fill="#58a63b"/>
<rect x="231.07" y="98.08" width="1.8" height="33.52" fill="#1d3b79"/>
<rect x="232.87" y="69.79" width="1.8" height="61.81" fill="#a6002e"/>
<rect x="234.67" y="100.7" width="1.8" height="30.9" fill="#c7c6cb"/>
<rect x="236.47" y="113.06" width="1.8" height="18.54" fill="#ecb816"/>
<rect x="238.27" y="125.42" width="1.8" height="6.18" fill="#58a63b"/>
<line x1="47.5" y1="51.8" x2="47.5" y2="131.6" stroke="#151515" stroke-width="1.4"/>
<line x1="44" y1="131.75" x2="247" y2="131.75" stroke="#3a3a3a" stroke-width="1.7"/>
<line x1="44.3" y1="131.6" x2="47.5" y2="131.6" stroke="#222" stroke-width="0.9"/>
<text transform="translate(41.5,134.5) scale(1,1.06)" text-anchor="end" font-size="8.2" fill="#1a1a1a">0</text>
<line x1="44.3" y1="112.22" x2="47.5" y2="112.22" stroke="#222" stroke-width="0.9"/>
<text transform="translate(41.5,115.12) scale(1,1.06)" text-anchor="end" font-size="8.2" fill="#1a1a1a">200</text>
<line x1="44.3" y1="92.85" x2="47.5" y2="92.85" stroke="#222" stroke-width="0.9"/>
<text transform="translate(41.5,95.75) scale(1,1.06)" text-anchor="end" font-size="8.2" fill="#1a1a1a">400</text>
<line x1="44.3" y1="73.47" x2="47.5" y2="73.47" stroke="#222" stroke-width="0.9"/>
<text transform="translate(41.5,76.38) scale(1,1.06)" text-anchor="end" font-size="8.2" fill="#1a1a1a">600</text>
<line x1="44.3" y1="54.1" x2="47.5" y2="54.1" stroke="#222" stroke-width="0.9"/>
<text transform="translate(41.5,57) scale(1,1.06)" text-anchor="end" font-size="8.2" fill="#1a1a1a">800</text>
<text transform="translate(61.8,138.4) rotate(-45) scale(1,1.06)" text-anchor="end" font-size="8.3" fill="#1a1a1a">2000</text>
<text transform="translate(72.21,138.4) rotate(-45) scale(1,1.06)" text-anchor="end" font-size="8.3" fill="#1a1a1a">2001</text>
<text transform="translate(82.62,138.4) rotate(-45) scale(1,1.06)" text-anchor="end" font-size="8.3" fill="#1a1a1a">2002</text>
<text transform="translate(93.03,138.4) rotate(-45) scale(1,1.06)" text-anchor="end" font-size="8.3" fill="#1a1a1a">2003</text>
<text transform="translate(103.44,138.4) rotate(-45) scale(1,1.06)" text-anchor="end" font-size="8.3" fill="#1a1a1a">2004</text>
<text transform="translate(113.85,138.4) rotate(-45) scale(1,1.06)" text-anchor="end" font-size="8.3" fill="#1a1a1a">2005</text>
<text transform="translate(124.26,138.4) rotate(-45) scale(1,1.06)" text-anchor="end" font-size="8.3" fill="#1a1a1a">2006</text>
<text transform="translate(134.67,138.4) rotate(-45) scale(1,1.06)" text-anchor="end" font-size="8.3" fill="#1a1a1a">2007</text>
<text transform="translate(145.08,138.4) rotate(-45) scale(1,1.06)" text-anchor="end" font-size="8.3" fill="#1a1a1a">2008</text>
<text transform="translate(155.49,138.4) rotate(-45) scale(1,1.06)" text-anchor="end" font-size="8.3" fill="#1a1a1a">2009</text>
<text transform="translate(165.9,138.4) rotate(-45) scale(1,1.06)" text-anchor="end" font-size="8.3" fill="#1a1a1a">2010</text>
<text transform="translate(176.31,138.4) rotate(-45) scale(1,1.06)" text-anchor="end" font-size="8.3" fill="#1a1a1a">2011</text>
<text transform="translate(186.72,138.4) rotate(-45) scale(1,1.06)" text-anchor="end" font-size="8.3" fill="#1a1a1a">2012</text>
<text transform="translate(197.13,138.4) rotate(-45) scale(1,1.06)" text-anchor="end" font-size="8.3" fill="#1a1a1a">2013</text>
<text transform="translate(207.54,138.4) rotate(-45) scale(1,1.06)" text-anchor="end" font-size="8.3" fill="#1a1a1a">2014</text>
<text transform="translate(217.95,138.4) rotate(-45) scale(1,1.06)" text-anchor="end" font-size="8.3" fill="#1a1a1a">2015</text>
<text transform="translate(228.36,138.4) rotate(-45) scale(1,1.06)" text-anchor="end" font-size="8.3" fill="#1a1a1a">2016</text>
<text transform="translate(238.77,138.4) rotate(-45) scale(1,1.06)" text-anchor="end" font-size="8.3" fill="#1a1a1a">2017</text>
<rect x="51.9" y="163.4" width="22" height="5.4" fill="#1d3b79"/>
<text transform="translate(77.1,168.6) scale(1,1.06)" font-size="7.3" fill="#1a1a1a" style="stroke-width:0.06px"># Recruited Needed</text>
<rect x="151.5" y="163.4" width="22" height="5.4" fill="#a6002e"/>
<text transform="translate(176.7,168.6) scale(1,1.06)" font-size="7.3" fill="#1a1a1a" style="stroke-width:0.06px">10% Participation</text>
<rect x="51.9" y="174.5" width="22" height="5.4" fill="#c7c6cb"/>
<text transform="translate(77.1,179.7) scale(1,1.06)" font-size="7.3" fill="#1a1a1a" style="stroke-width:0.06px">5% Participation</text>
<rect x="151.5" y="174.5" width="22" height="5.4" fill="#ecb816"/>
<text transform="translate(176.7,179.7) scale(1,1.06)" font-size="7.3" fill="#1a1a1a" style="stroke-width:0.06px">3% Participation</text>
<rect x="51.9" y="185.2" width="22" height="5.4" fill="#58a63b"/>
<text transform="translate(77.1,190.4) scale(1,1.06)" font-size="7.3" fill="#1a1a1a" style="stroke-width:0.06px">1% Participation</text>
<text transform="translate(52.3,200.4) scale(1,1.06)" font-size="6.3" fill="#1a1a1a" style="stroke-width:0.04px">*Based on US incidence</text>
</g>
<rect x="0.6" y="0.6" width="518.8" height="417.8" fill="none" stroke="#000" stroke-width="1.2"/>
</svg>
</body></html>
